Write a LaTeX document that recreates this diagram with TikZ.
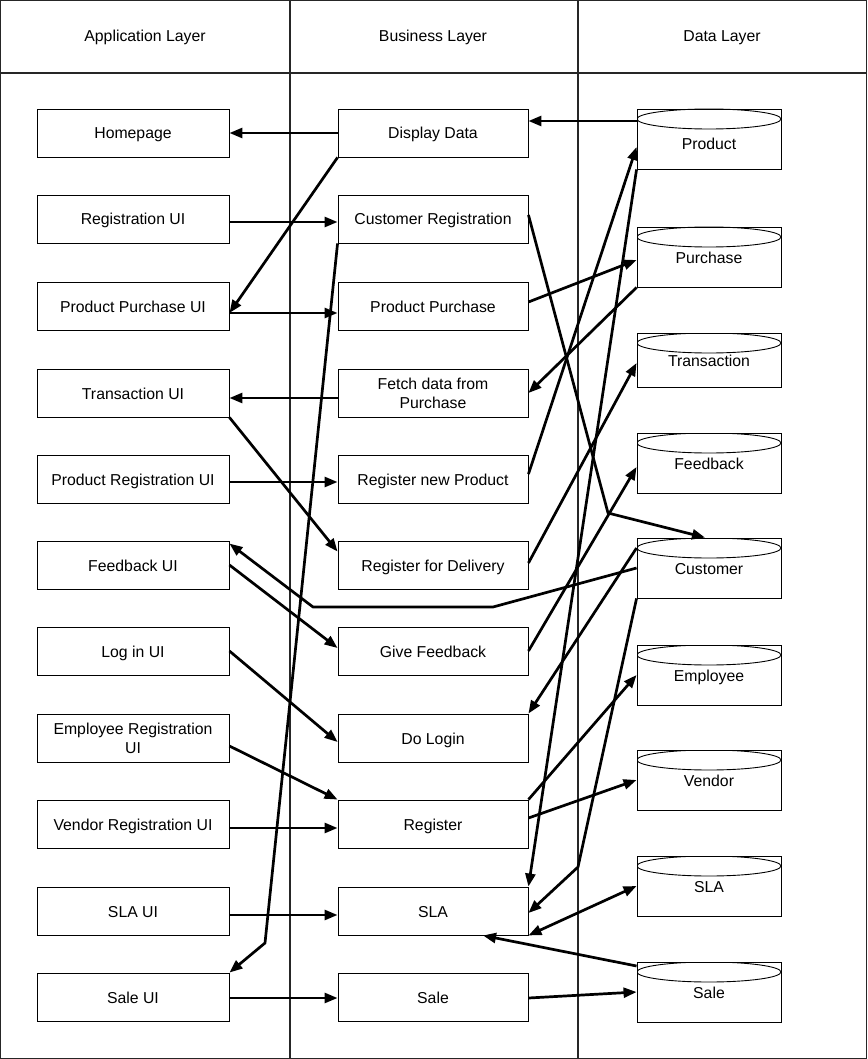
\documentclass[tikz,border=0pt]{standalone}
\usepackage{fontspec}
\setmainfont{Liberation Sans}
\usetikzlibrary{arrows.meta}

\begin{document}
\begin{tikzpicture}[
  x=1pt, y=-1pt,
  font=\fontsize{15.8}{19}\selectfont,
  >={Triangle[length=13pt, width=10pt]},
  frame/.style={draw=black!85, line width=1.2pt},
  oneline/.style={text height=12pt, text depth=0pt},
  box/.style={
    draw, line width=0.9pt, minimum height=48pt, align=center, inner sep=2pt
  },
  appbox/.style={box, minimum width=192pt},
  bizbox/.style={box, minimum width=190pt},
  store/.style={
    draw, line width=0.9pt, minimum width=144pt, minimum height=60pt, oneline,
    path picture={\draw[line width=0.9pt]
      ([yshift=-10pt]path picture bounding box.north)
      ellipse [x radius=72pt, y radius=10pt];}
  },
  link/.style={line width=2.7pt, line join=round, ->},
  twoway/.style={link, <->},
]
\useasboundingbox (0,0) rectangle (867,1059);

% lanes
\draw[frame] (0.6,0.6) rectangle (866.4,1058.4);
\draw[frame] (0,73) -- (867,73);
\draw[frame] (290,0) -- (290,1059);
\draw[frame] (578,0) -- (578,1059);
\node[oneline] (hApp)  at (145,36) {Application Layer};
\node[oneline] (hBiz)  at (433,36) {Business Layer};
\node[oneline] (hData) at (722,36) {Data Layer};

% application layer
\node[appbox, oneline] (home)    at (133,133) {Homepage};
\node[appbox, oneline] (regui)   at (133,219) {Registration UI};
\node[appbox, oneline] (ppui)    at (133,306) {Product Purchase UI};
\node[appbox, oneline] (transui) at (133,393) {Transaction UI};
\node[appbox, oneline] (pregui)  at (133,479) {Product Registration UI};
\node[appbox, oneline] (fbui)    at (133,565) {Feedback UI};
\node[appbox, oneline] (loginui) at (133,651) {Log in UI};
\node[appbox] (empui)            at (133,738) {Employee Registration\\UI};
\node[appbox, oneline] (venui)   at (133,824) {Vendor Registration UI};
\node[appbox, oneline] (slaui)   at (133,911) {SLA UI};
\node[appbox, oneline] (saleui)  at (133,997) {Sale UI};

% business layer
\node[bizbox, oneline] (disp)    at (433,133) {Display Data};
\node[bizbox, oneline] (custreg) at (433,219) {Customer Registration};
\node[bizbox, oneline] (ppur)    at (433,306) {Product Purchase};
\node[bizbox] (fetch)            at (433,393) {Fetch data from\\Purchase};
\node[bizbox, oneline] (regprod) at (433,479) {Register new Product};
\node[bizbox, oneline] (regdel)  at (433,565) {Register for Delivery};
\node[bizbox, oneline] (givefb)  at (433,651) {Give Feedback};
\node[bizbox, oneline] (dologin) at (433,738) {Do Login};
\node[bizbox, oneline] (reg)     at (433,824) {Register};
\node[bizbox, oneline] (sla)     at (433,911) {SLA};
\node[bizbox, oneline] (sale)    at (433,997) {Sale};

% data layer
\node[store, text height=22pt] (dbprod) at (709,139) {Product};
\node[store] (dbpur)   at (709,257) {Purchase};
\node[store, minimum height=54pt] (dbtrans) at (709,360) {Transaction};
\node[store] (dbfb)    at (709,463) {Feedback};
\node[store] (dbcust)  at (709,568) {Customer};
\node[store] (dbemp)   at (709,675) {Employee};
\node[store] (dbven)   at (709,780) {Vendor};
\node[store] (dbsla)   at (709,886) {SLA};
\node[store] (dbsale)  at (709,992) {Sale};

% bends
\coordinate (k1) at (265,943);
\coordinate (k2) at (608,513);
\coordinate (k3) at (493,607);
\coordinate (k4) at (313,607);
\coordinate (k5) at (578,867);

% connectors
\draw[link] ([yshift=18pt]dbprod.west) -- ([yshift=12pt]disp.east);
\draw[link] (disp.west) -- (home.east);
\draw[link] (disp.south west) -- ([yshift=-7pt]ppui.east);
\draw[link] ([yshift=-3pt]regui.east) -- ([yshift=-3pt]custreg.west);
\draw[link] ([yshift=-7pt]ppui.east) -- ([yshift=-7pt]ppur.west);
\draw[link] (custreg.south west) -- (k1) -- (saleui.north east);
\draw[link] ([yshift=4pt]custreg.east) -- (k2) -- ([xshift=-4pt]dbcust.north);
\draw[link] ([yshift=4pt]ppur.east) -- ([yshift=-3pt]dbpur.west);
\draw[link] (dbpur.south west) -- (fetch.east);
\draw[link] ([yshift=-5pt]fetch.west) -- ([yshift=-5pt]transui.east);
\draw[link] (transui.south east) -- ([yshift=-11pt]regdel.north west);
\draw[link] ([yshift=-3pt]pregui.east) -- ([yshift=-3pt]regprod.west);
\draw[link] ([yshift=5pt]regprod.east) -- ([yshift=-8pt]dbprod.west);
\draw[link] ([yshift=2pt]regdel.east) -- ([yshift=-3pt]dbtrans.west);
\draw[link] (dbcust.west) -- (k3) -- (k4) -- ([yshift=-3pt]fbui.north east);
\draw[link] (fbui.east) -- ([yshift=3pt]givefb.west);
\draw[link] (givefb.east) -- ([yshift=-4pt]dbfb.west);
\draw[link] ([yshift=20pt]dbcust.west) -- (dologin.north east);
\draw[link] (loginui.east) -- ([yshift=-4pt]dologin.west);
\draw[link] ([yshift=-8pt]empui.east) -- (reg.north west);
\draw[link] ([yshift=-4pt]venui.east) -- ([yshift=-4pt]reg.west);
\draw[link] (reg.north east) -- (dbemp.west);
\draw[link] ([yshift=6pt]reg.east) -- (dbven.west);
\draw[link] (dbprod.south west) -- (sla.north east);
\draw[link] (dbcust.south west) -- (k5) -- ([yshift=-2pt]sla.east);
\draw[twoway] (dbsla.west) -- (sla.south east);
\draw[link] ([yshift=26pt]dbsale.west) -- ([xshift=50pt]sla.south);
\draw[link] ([yshift=-1pt]sale.east) -- (dbsale.west);
\draw[link] ([yshift=-4pt]slaui.east) -- ([yshift=-4pt]sla.west);
\draw[link] ([yshift=-1pt]saleui.east) -- ([yshift=-1pt]sale.west);

\end{tikzpicture}
\end{document}
